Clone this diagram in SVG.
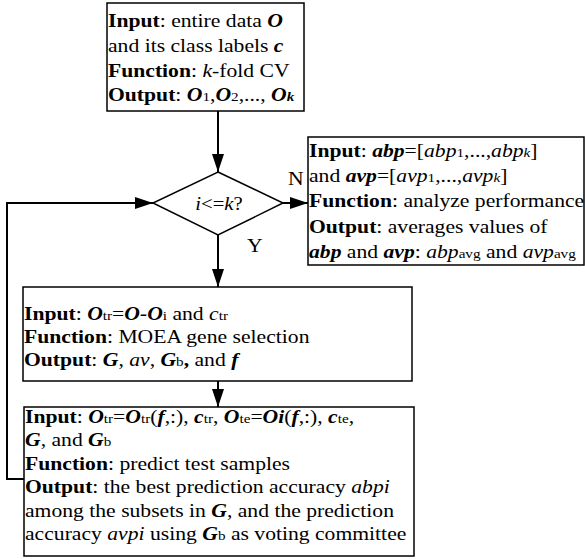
<svg xmlns="http://www.w3.org/2000/svg" width="585" height="559" viewBox="0 0 585 559" font-family="'Liberation Serif', 'DejaVu Serif', serif">
<style>
.box{fill:#fff;stroke:#000;stroke-width:1.5}
.con{fill:none;stroke:#000;stroke-width:2}
.t{font-family:'Liberation Serif','DejaVu Serif',serif;font-size:18.5px;fill:#000}
.b{font-weight:bold}
.i{font-style:italic}
.bi{font-weight:bold;font-style:italic}
.s{font-size:13px}
</style>
<defs>
<marker id="ah" viewBox="0 0 18 12" refX="18" refY="6" markerWidth="18" markerHeight="12" markerUnits="userSpaceOnUse" orient="auto">
<path d="M0,0 L18,6 L0,12 Z" fill="#000"/>
</marker>
</defs>

<g id="connectors">
<line class="con" x1="218" y1="111" x2="218" y2="172" marker-end="url(#ah)"/>
<line class="con" x1="283" y1="203" x2="308" y2="203" marker-end="url(#ah)"/>
<line class="con" x1="218" y1="235" x2="218" y2="287" marker-end="url(#ah)"/>
<line class="con" x1="218" y1="381" x2="218" y2="407" marker-end="url(#ah)"/>
<polyline class="con" points="24,479 7,479 7,203 153,203" marker-end="url(#ah)"/>
<g transform="translate(288,0) scale(1.17,1)"><text class="t" x="0" y="185">N</text></g>
<g transform="translate(247,0) scale(1.17,1)"><text class="t" x="0" y="252">Y</text></g>
</g>

<g id="cv">
<rect class="box" x="107" y="3" width="197" height="108"/>
<g transform="translate(108,0) scale(1.17,1)">
<text class="t" y="27.5"><tspan class="b">Input</tspan>: entire data <tspan class="bi">O</tspan></text>
<text class="t" y="52.5">and its class labels <tspan class="bi">c</tspan></text>
<text class="t" y="77"><tspan class="b">Function</tspan>:  <tspan class="i">k</tspan>-fold CV</text>
<text class="t" y="101.5"><tspan class="b">Output</tspan>: <tspan class="bi">O</tspan><tspan class="s">1</tspan>,<tspan class="bi">O</tspan><tspan class="s">2</tspan>,..., <tspan class="bi">O</tspan><tspan class="bi s">k</tspan></text>
</g>
</g>

<g id="decision">
<polygon class="box" points="218,172 283,203 218,235 153,203"/>
<g transform="translate(219,0) scale(1.12,1)">
<text class="t" x="0" y="210" text-anchor="middle"><tspan class="i">i</tspan>&lt;=<tspan class="i">k</tspan>?</text>
</g>
</g>

<g id="analyze">
<rect class="box" x="308" y="137" width="276" height="128"/>
<g transform="translate(309,0) scale(1.17,1)">
<text class="t" y="157"><tspan class="b">Input</tspan>: <tspan class="bi">abp</tspan>=[<tspan class="i">abp</tspan><tspan class="s">1</tspan>,...,<tspan class="i">abp</tspan><tspan class="i s">k</tspan>]</text>
<text class="t" y="182">and <tspan class="bi">avp</tspan>=[<tspan class="i">avp</tspan><tspan class="s">1</tspan>,...,<tspan class="i">avp</tspan><tspan class="i s">k</tspan>]</text>
<text class="t" y="207.5"><tspan class="b">Function</tspan>: analyze performance</text>
<text class="t" y="233"><tspan class="b">Output</tspan>: averages values of</text>
<text class="t" y="258.5"><tspan class="bi">abp</tspan> and <tspan class="bi">avp</tspan>: <tspan class="i">abp</tspan><tspan class="s">avg</tspan> and <tspan class="i">avp</tspan><tspan class="s">avg</tspan></text>
</g>
</g>

<g id="moea">
<rect class="box" x="23" y="287" width="389" height="94"/>
<g transform="translate(24,0) scale(1.17,1)">
<text class="t" y="320.5"><tspan class="b">Input</tspan>: <tspan class="bi">O</tspan><tspan class="s">tr</tspan>=<tspan class="bi">O-O</tspan><tspan class="s">i</tspan> and <tspan class="i">c</tspan><tspan class="s">tr</tspan></text>
<text class="t" y="343.5"><tspan class="b">Function</tspan>: MOEA gene selection</text>
<text class="t" y="366.5"><tspan class="b">Output</tspan>: <tspan class="bi">G</tspan>, <tspan class="i">av</tspan>, <tspan class="bi">G</tspan><tspan class="s">b</tspan><tspan class="b">,</tspan> and <tspan class="bi">f</tspan></text>
</g>
</g>

<g id="predict">
<rect class="box" x="24" y="407" width="390" height="149"/>
<g transform="translate(25,0) scale(1.17,1)">
<text class="t" y="423"><tspan class="b">Input</tspan>: <tspan class="bi">O</tspan><tspan class="s">tr</tspan>=<tspan class="bi">O</tspan><tspan class="s">tr</tspan>(<tspan class="bi">f</tspan>,:), <tspan class="bi">c</tspan><tspan class="s">tr</tspan>, <tspan class="bi">O</tspan><tspan class="s">te</tspan>=<tspan class="bi">Oi</tspan>(<tspan class="bi">f</tspan>,:), <tspan class="bi">c</tspan><tspan class="s">te</tspan>,</text>
<text class="t" y="446.5"><tspan class="bi">G</tspan>, and <tspan class="bi">G</tspan><tspan class="s">b</tspan></text>
<text class="t" y="470"><tspan class="b">Function</tspan>: predict test samples</text>
<text class="t" y="493.5"><tspan class="b">Output</tspan>: the best prediction accuracy <tspan class="i">abpi</tspan></text>
<text class="t" y="517">among the subsets in <tspan class="bi">G</tspan>, and the prediction</text>
<text class="t" y="540.5">accuracy <tspan class="i">avpi</tspan> using <tspan class="bi">G</tspan><tspan class="s">b</tspan> as voting committee</text>
</g>
</g>
</svg>
